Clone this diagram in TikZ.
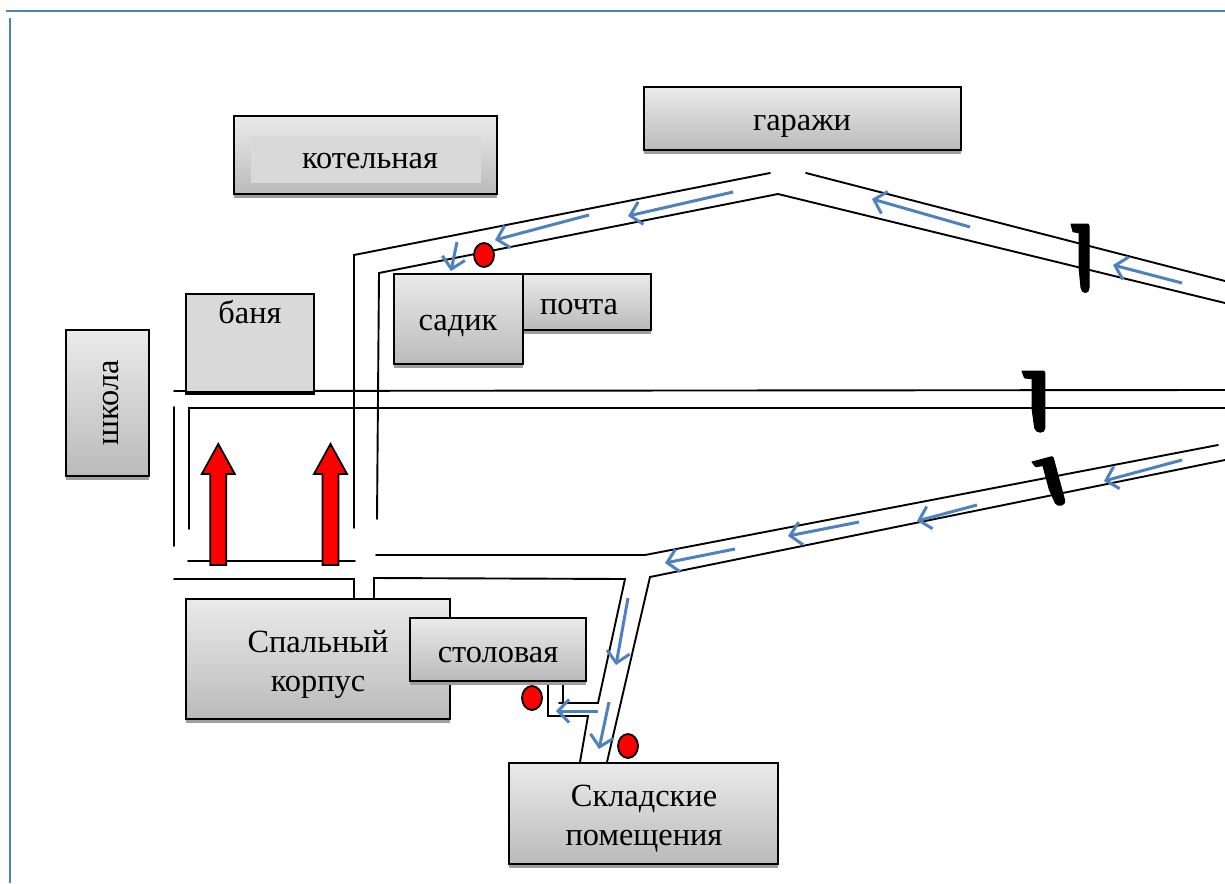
\documentclass[tikz,border=0pt]{standalone}
\usepackage{fontspec}
\setmainfont{Liberation Serif}
\usetikzlibrary{arrows.meta,shadows,shapes.geometric}
\definecolor{bl}{HTML}{4F81BD}
\tikzset{
  bldg/.style={draw=black,line width=2pt,rectangle,inner sep=0pt,top color=black!8,bottom color=black!27,
    general shadow={fill=black!38,shadow xshift=0pt,shadow yshift=-3.5pt}},
  flatbldg/.style={draw=black,line width=2.2pt,rectangle,inner sep=0pt,fill=black!15},
  lbl/.style={font=\fontsize{32.4}{39}\selectfont,text=black,inner sep=0pt,align=center},
  road/.style={draw=black,line width=1.9pt,line cap=round,line join=miter},
  flow/.style={draw=bl,line width=3pt,-{Straight Barb[length=11pt,width=23pt,line width=3pt]}},
  dot/.style={ellipse,draw=black,line width=1.8pt,fill=red,minimum width=20pt,minimum height=24pt,inner sep=0pt},
  big/.style={draw=black,line width=1.8pt,fill=red,line join=miter},
  hook/.style={fill=black,draw=black,line width=1pt,line join=round}
}
\newcommand{\bx}[5]{\node[bldg,minimum width=#4pt-#2pt,minimum height=#5pt-#3pt] (#1) at ({(#2+#4)/2},{(#3+#5)/2}) {};}
\newcommand{\hk}[5]{\filldraw[hook,shift={(#1,#2)},rotate=#3,xscale=#4,yscale=#5] (0,0) -- (17,0) -- (18,2) -- (18,62) .. controls (18,68) and (11,68) .. (10,62) -- (8,42) -- (8,8.5) -- (2,7.5) -- cycle;}
\newcommand{\redarrow}[1]{\draw[big] (#1-8,565) -- (#1-8,474) -- (#1-16.5,474) -- (#1,444) -- (#1+16.5,474) -- (#1+8,474) -- (#1+8,565) -- cycle;}
\begin{document}
\begin{tikzpicture}[x=1pt,y=-1pt]
\useasboundingbox (0,0) rectangle (1225,883);
% frame
\draw[bl,line width=2.4pt] (6,11) -- (1225,11);
\draw[bl,line width=2.4pt] (10,18) -- (10,883);
% roads
\draw[road] (354,528) -- (354,255) -- (770,173);
\draw[road] (377,519) -- (379,273) -- (778,194) -- (1225,303);
\draw[road] (806,173) -- (1225,281);
\draw[road] (174,391) -- (1225,390);
\draw[road] (189,529) -- (189,408) -- (1225,408);
\draw[road] (174,407) -- (174,546);
\draw[road] (188,561) -- (355,561);
\draw[road] (174,579) -- (354,579) -- (354,598);
\draw[road] (374,598) -- (374,578) -- (625,579) -- (598,703) -- (559,703);
\draw[road] (563,682) -- (563,703);
\draw[road] (548,682) -- (548,716) -- (588,716) -- (580,762);
\draw[road] (607,762) -- (650,577) -- (1225,460);
\draw[road] (376,555) -- (645,555) -- (1218,445);
% buildings
\bx{kot}{234}{116}{497}{194}
\fill[black!15] (251,136) rectangle (481,183);
\bx{gar}{644}{87}{961}{150}
\node[flatbldg,minimum width=128pt,minimum height=98pt] (ban) at (250,343) {};
\draw[black,line width=3.5pt] (ban.south west) -- (ban.south east);
\bx{shk}{66}{330}{149}{476}
\bx{poc}{510}{274}{651}{330}
\bx{sad}{394}{274}{523}{364}
\bx{spa}{186}{599}{450}{719}
\bx{sto}{410}{618}{586}{681}
\bx{skl}{509}{763}{778}{864}
% labels
\node[lbl] (tkot) at (370,161) {котельная};
\node[lbl] (tgar) at (802,126) {гаражи};
\node[lbl] (tban) at (250,312) {баня};
\node[lbl,rotate=90] (tshk) at (111,403) {школа};
\node[lbl] (tpoc) at (579,307) {почта};
\node[lbl] (tsad) at (458,326) {садик};
\node[lbl] (tspa) at (318,664) {Спальный\\корпус};
\node[lbl] (tsto) at (498,655) {столовая};
\node[lbl] (tskl) at (644,819) {Складские\\помещения};
% dots
\node[dot] (d1) at (484,255) {};
\node[dot] (d2) at (532,698) {};
\node[dot] (d3) at (628,746) {};
% red arrows
\redarrow{218.3}
\redarrow{330.5}
% black marks
\hk{1071}{224}{0}{1}{1.03}
\hk{1022}{371}{0}{1.27}{.92}
\hk{1032}{462}{15}{1.2}{.74}
% flow arrows
\draw[flow] (733,192) -- (628,216);
\draw[flow] (589,215) -- (495,240);
\draw[flow] (970,227) -- (872,199);
\draw[flow] (1182,283) -- (1113,265);
\draw[flow] (1182,460) -- (1104,481);
\draw[flow] (977,505) -- (917,521);
\draw[flow] (859,522) -- (788,536);
\draw[flow] (735,549) -- (665,563);
\draw[flow] (628,598) -- (616,665);
\draw[flow] (609,702) -- (599,749);
\draw[flow] (598,711) -- (556,711);
\draw[flow] (457,242) -- (451,271);
\end{tikzpicture}
\end{document}
